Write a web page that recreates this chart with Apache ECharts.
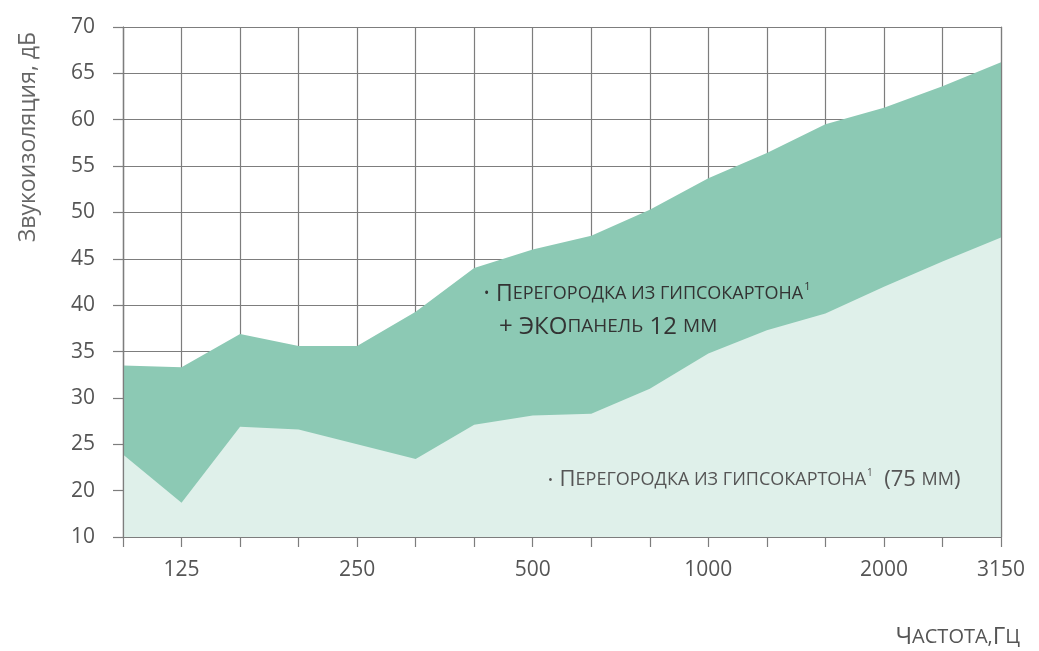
<!DOCTYPE html>
<html>
<head>
<meta charset="utf-8">
<script src="https://cdn.jsdelivr.net/npm/echarts@6/dist/echarts.min.js"></script>
<style>
    html, body {margin: 0; padding: 0; background: #fff;}
    #sound-chart {width: 1039px; height: 651px;}
</style>
</head>
<body>
<div id="sound-chart"></div>
<script>
// частоты, Гц (третьоктавные полосы)
var freqs = ['100','125','160','200','250','315','400','500','630','800','1000','1250','1600','2000','2500','3150'];
// какие подписи частот видны на оси
var shownFreqs = ['125','250','500','1000','2000','3150'];
// подписи оси Y (нижняя отметка подписана как 10 — разрыв шкалы)
var yTickLabels = ['10','20','25','30','35','40','45','50','55','60','65','70'];
// перегородка + ЭКОпанель 12 мм
var withPanel = [33.5,33.3,36.9,35.6,35.6,39.3,44.0,46.0,47.5,50.3,53.7,56.4,59.5,61.3,63.6,66.2];
// перегородка из гипсокартона 75 мм
var plainWall = [23.9,18.7,26.9,26.6,25.0,23.4,27.1,28.1,28.3,31.0,34.8,37.3,39.1,42.0,44.7,47.3];

var FONT = 'Open Sans';
var gridColor = '#7d7d7d';

function soundChart() {
    var chart = echarts.init(document.getElementById('sound-chart'));
    var option = {
        animation: false,
        textStyle: {fontFamily: FONT},
        grid: {left: 123, right: 38, top: 27, bottom: 114},
        xAxis: {
            type: 'category',
            boundaryGap: false,
            data: freqs,
            axisLine: {lineStyle: {color: gridColor, width: 1.2}},
            axisTick: {interval: 0, length: 10, lineStyle: {color: gridColor, width: 1.2}},
            axisLabel: {
                margin: 23,
                fontSize: 21,
                color: '#555',
                interval: function (i, v) { return shownFreqs.indexOf(v) >= 0; }
            },
            splitLine: {show: true, interval: 0, lineStyle: {color: gridColor, width: 1.2}}
        },
        yAxis: [
            {
                type: 'value',
                min: 15,
                max: 70,
                interval: 5,
                axisLine: {show: true, lineStyle: {color: gridColor, width: 1.2}},
                axisTick: {show: true, length: 10, lineStyle: {color: gridColor, width: 1.2}},
                axisLabel: {
                    margin: 28,
                    fontSize: 21,
                    color: '#555',
                    formatter: function (v) { return yTickLabels[Math.round((v - 15) / 5)]; }
                },
                splitLine: {show: true, lineStyle: {color: gridColor, width: 1.2}}
            },
            {
                // левая граница поверх заливки
                type: 'value', min: 15, max: 70, position: 'left', z: 5,
                axisLine: {show: true, lineStyle: {color: gridColor, width: 1.2}},
                axisTick: {show: false}, axisLabel: {show: false}, splitLine: {show: false}
            },
            {
                // правая граница поверх заливки
                type: 'value', min: 15, max: 70, position: 'right', z: 5,
                axisLine: {show: true, lineStyle: {color: gridColor, width: 1.2}},
                axisTick: {show: false}, axisLabel: {show: false}, splitLine: {show: false}
            }
        ],
        series: [
            {
                name: 'Перегородка из гипсокартона + ЭКОпанель 12 мм',
                type: 'line',
                data: withPanel,
                showSymbol: false,
                lineStyle: {width: 0},
                areaStyle: {color: '#8cc9b4', opacity: 1, origin: 'start'}
            },
            {
                name: 'Перегородка из гипсокартона (75 мм)',
                type: 'line',
                data: plainWall,
                showSymbol: false,
                lineStyle: {width: 0},
                areaStyle: {color: '#dff0ea', opacity: 1, origin: 'start'}
            }
        ],
        graphic: [
            {
                type: 'text', x: 28, y: 137, rotation: Math.PI / 2,
                style: {
                    text: 'Звукоизоляция, дБ', fontFamily: FONT, fontSize: 23,
                    fill: '#666', align: 'center', verticalAlign: 'middle'
                }
            },
            {
                type: 'text', x: 1020, y: 637,
                style: {
                    text: '{b|Ч}{s|АСТОТА,}{b|Г}{s|Ц}',
                    align: 'right', verticalAlign: 'middle', fill: '#555',
                    rich: {
                        b: {fontFamily: FONT, fontSize: 24, fill: '#555'},
                        s: {fontFamily: FONT, fontSize: 20, fill: '#555'}
                    }
                }
            },
            {
                type: 'text', x: 484, y: 294, z: 10,
                style: {
                    text: '{d|•}  {b|П}{s|ЕРЕГОРОДКА ИЗ ГИПСОКАРТОНА}{u|1}',
                    verticalAlign: 'middle',
                    rich: {
                        d: {fontFamily: FONT, fontSize: 14, fill: '#333'},
                        b: {fontFamily: FONT, fontSize: 23, fill: '#333'},
                        s: {fontFamily: FONT, fontSize: 18, fill: '#333'},
                        u: {fontFamily: FONT, fontSize: 11, fill: '#333', padding: [0, 0, 14, 1]}
                    }
                }
            },
            {
                type: 'text', x: 499, y: 327, z: 10,
                style: {
                    text: '{b|+ ЭКО}{s|ПАНЕЛЬ}{b| 12 }{s|ММ}',
                    verticalAlign: 'middle',
                    rich: {
                        b: {fontFamily: FONT, fontSize: 24, fill: '#333'},
                        s: {fontFamily: FONT, fontSize: 19, fill: '#333'}
                    }
                }
            },
            {
                type: 'text', x: 548, y: 480, z: 10,
                style: {
                    text: '{d|•}  {b|П}{s|ЕРЕГОРОДКА ИЗ ГИПСОКАРТОНА}{u|1}{b|  (75 }{s|ММ}{b|)}',
                    verticalAlign: 'middle',
                    rich: {
                        d: {fontFamily: FONT, fontSize: 13, fill: '#555'},
                        b: {fontFamily: FONT, fontSize: 22, fill: '#555'},
                        s: {fontFamily: FONT, fontSize: 18, fill: '#555'},
                        u: {fontFamily: FONT, fontSize: 10, fill: '#555', padding: [0, 0, 13, 1]}
                    }
                }
            }
        ]
    };
    chart.setOption(option);
}

soundChart();
</script>
</body>
</html>
